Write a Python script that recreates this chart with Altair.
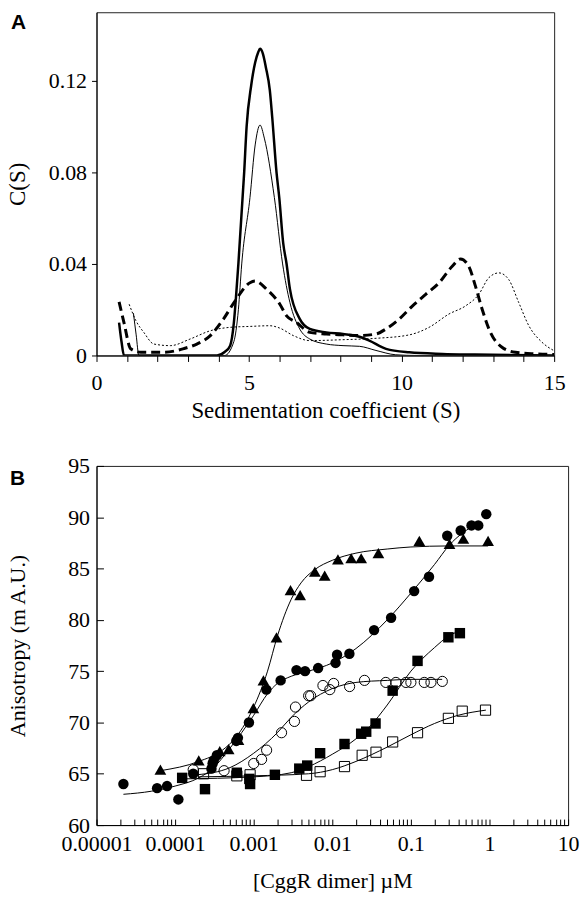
import altair as alt
import pandas as pd

# ---------------- Panel A : c(S) distributions ----------------
a_thick_x = [0.74, 0.82, 0.90, 1.5, 2.5, 3.5, 3.95, 4.2, 4.38, 4.5, 4.58, 4.65, 4.84, 4.92, 5.07, 5.2, 5.3,
             5.36, 5.45, 5.55, 5.68, 5.76, 5.90, 5.99, 6.12, 6.23, 6.34, 6.66, 6.99, 7.53, 8.08, 8.62, 8.94,
             9.49, 10.25, 11.34, 12.4, 15.0]
a_thick_y = [0.0144, 0.006, 0.0, 0.0, 0.0, 0.0, 0.0, 0.0015, 0.0043, 0.014, 0.027, 0.04, 0.08, 0.1, 0.118,
             0.128, 0.1325, 0.134, 0.132, 0.126, 0.116, 0.104, 0.08, 0.069, 0.049, 0.04, 0.029, 0.016, 0.0116,
             0.0101, 0.0094, 0.0082, 0.0065, 0.0029, 0.0014, 0.0007, 0.0004, 0.0]

a_thin_x = [1.21, 1.30, 1.39, 2.5, 3.5, 4.2, 4.5, 4.65, 4.76, 5.03, 5.2, 5.36, 5.5, 5.83, 6.1, 6.34, 6.66,
            6.99, 7.53, 8.08, 8.62, 9.16, 9.81, 10.5, 15.0]
a_thin_y = [0.0185, 0.009, 0.0, 0.0, 0.0, 0.0, 0.006, 0.02, 0.04, 0.069, 0.092, 0.1007, 0.095, 0.069, 0.04,
            0.0231, 0.0116, 0.0072, 0.005, 0.0043, 0.004, 0.0022, 0.0003, 0.0, 0.0]

a_dash_x = [0.74, 0.90, 1.12, 1.45, 2.2, 2.86, 3.29, 3.73, 4.16, 4.54, 5.03, 5.2, 5.58, 6.01, 6.23, 6.55,
            6.99, 7.53, 8.08, 8.62, 9.16, 9.49, 9.92, 10.36, 10.79, 11.23, 11.66, 11.93, 12.2, 12.42, 12.64,
            12.91, 13.29, 13.73, 14.4, 15.0]
a_dash_y = [0.0234, 0.0144, 0.0029, 0.0014, 0.0014, 0.003, 0.005, 0.0087, 0.0159, 0.0238, 0.0318, 0.0325,
            0.0289, 0.0224, 0.0173, 0.0145, 0.0101, 0.0094, 0.009, 0.0087, 0.0094, 0.0116, 0.0159, 0.0217,
            0.0267, 0.0318, 0.039, 0.0422, 0.039, 0.0303, 0.0202, 0.0101, 0.0036, 0.0014, 0.0007, 0.0004]

a_dot_x = [1.07, 1.3, 1.55, 1.88, 2.42, 3.07, 3.73, 4.38, 5.03, 5.68, 6.0, 6.45, 6.99, 8.08, 9.16, 10.25,
           10.9, 11.55, 12.1, 12.53, 12.86, 13.19, 13.51, 13.84, 14.17, 14.6, 14.98]
a_dot_y = [0.0224, 0.015, 0.0101, 0.005, 0.0043, 0.0072, 0.0108, 0.0123, 0.0127, 0.013, 0.012, 0.0087,
           0.0065, 0.0069, 0.0075, 0.009, 0.0123, 0.0181, 0.0217, 0.0267, 0.034, 0.0361, 0.0332, 0.0231,
           0.013, 0.0058, 0.0022]

a_x_ticks = list(range(0, 16))
a_y_ticks = [0, 0.04, 0.08, 0.12]

# ---------------- Panel B : anisotropy titrations ----------------
tri_x = [6.5e-5, 2.0e-4, 3.7e-4, 4.8e-4, 6.4e-4, 9.9e-4, 1.33e-3, 1.95e-3, 2.94e-3, 3.9e-3, 6.0e-3, 8.0e-3,
         0.0118, 0.0174, 0.0233, 0.0386, 0.128, 0.31, 0.465, 0.96]
tri_y = [65.4, 66.3, 67.2, 67.4, 68.3, 71.4, 74.1, 78.3, 82.9, 82.4, 84.7, 84.3, 85.9, 86.0, 86.0, 86.5,
         87.7, 87.4, 87.9, 87.7]
tri_fit_x = [6.5e-5, 2e-4, 4e-4, 6e-4, 1e-3, 1.5e-3, 2e-3, 3e-3, 4e-3, 6e-3, 0.01, 0.02, 0.05, 0.1, 0.3, 0.96]
tri_fit_y = [65.3, 66.2, 67.3, 68.6, 71.5, 75.0, 78.4, 82.0, 83.6, 84.9, 85.8, 86.5, 86.9, 87.1, 87.2, 87.2]

fc_x = [2.2e-5, 5.9e-5, 7.9e-5, 1.1e-4, 1.7e-4, 2.9e-4, 3.0e-4, 3.1e-4, 3.4e-4, 6.0e-4, 6.3e-4, 8.7e-4,
        1.45e-3, 2.2e-3, 3.5e-3, 4.5e-3, 6.6e-3, 0.011, 0.0115, 0.0165, 0.034, 0.056, 0.11, 0.17, 0.29,
        0.43, 0.59, 0.72, 0.91]
fc_y = [64.0, 63.6, 63.8, 62.5, 65.0, 65.5, 66.0, 66.3, 66.8, 68.2, 68.5, 70.0, 73.2, 74.1, 75.1, 75.0,
        75.3, 75.8, 76.6, 76.7, 79.0, 80.2, 82.8, 84.2, 88.2, 88.7, 89.2, 89.2, 90.3]
fc_fit_x = [2.2e-5, 5e-5, 1e-4, 2e-4, 3e-4, 5e-4, 1e-3, 1.5e-3, 2e-3, 3e-3, 5e-3, 0.01, 0.02, 0.05, 0.1,
            0.2, 0.31, 0.6]
fc_fit_y = [63.0, 63.3, 63.8, 64.6, 65.5, 67.5, 70.7, 72.8, 73.8, 74.5, 75.0, 75.8, 77.2, 80.0, 82.6, 85.4,
            87.3, 89.1]

oc_x = [1.7e-4, 4.2e-4, 1.0e-3, 1.26e-3, 1.46e-3, 2.26e-3, 3.3e-3, 3.4e-3, 5.0e-3, 5.3e-3, 7.6e-3,
        9.3e-3, 0.0104, 0.0166, 0.0257, 0.048, 0.0645, 0.0865, 0.1, 0.148, 0.18, 0.251]
oc_y = [65.4, 65.3, 66.0, 66.4, 67.3, 69.0, 70.1, 71.5, 72.6, 72.6, 73.6, 73.2, 73.8, 73.5, 74.1, 73.9,
        73.9, 73.9, 73.9, 73.9, 73.9, 74.0]
oc_fit_x = [1.9e-4, 5e-4, 1e-3, 2e-3, 3e-3, 5e-3, 0.01, 0.02, 0.05, 0.1, 0.25]
oc_fit_y = [64.9, 65.6, 67.0, 69.0, 70.5, 72.0, 73.3, 73.9, 74.1, 74.2, 74.2]

fs_x = [1.23e-4, 2.4e-4, 6.1e-4, 8.8e-4, 9.0e-4, 1.86e-3, 3.8e-3, 4.8e-3, 7.0e-3, 0.0143, 0.0233, 0.027,
        0.0355, 0.0586, 0.1215, 0.30, 0.42]
fs_y = [64.6, 63.5, 65.1, 64.5, 64.0, 64.9, 65.5, 65.8, 67.0, 67.9, 68.9, 69.1, 69.9, 73.1, 76.0, 78.3, 78.7]
fs_fit_x = [1.2e-4, 1e-3, 3e-3, 5e-3, 0.01, 0.02, 0.03, 0.05, 0.1, 0.2, 0.3, 0.45]
fs_fit_y = [64.5, 64.7, 65.1, 65.7, 66.9, 68.4, 69.6, 71.7, 75.0, 77.3, 78.4, 79.0]

os_x = [2.3e-4, 6.1e-4, 9.0e-4, 4.7e-3, 7.0e-3, 0.0143, 0.024, 0.036, 0.0586, 0.1215, 0.30, 0.45, 0.89]
os_y = [65.0, 64.8, 64.9, 64.85, 65.2, 65.7, 66.8, 67.1, 68.1, 69.0, 70.4, 71.1, 71.2]
os_fit_x = [2e-4, 1e-3, 5e-3, 0.01, 0.02, 0.05, 0.1, 0.2, 0.4, 0.9]
os_fit_y = [64.7, 64.8, 65.0, 65.4, 66.2, 67.6, 68.8, 69.9, 70.7, 71.2]

b_x_ticks = [m * 10.0 ** e for e in range(-5, 1) for m in range(1, 10)] + [10.0]
b_y_ticks = [60, 65, 70, 75, 80, 85, 90, 95]

SERIF = "Liberation Serif"
LFS = 22   # tick label size

# ---------------- build panel A ----------------
ax_a_x = alt.Axis(values=a_x_ticks, labelExpr="datum.value % 5 == 0 ? datum.label : ''",
                  title="Sedimentation coefficient (S)", tickSize=6, labelPadding=11, titlePadding=6,
                  labelFlush=False, labelOverlap=False, titleFontSize=23)
ax_a_y = alt.Axis(values=a_y_ticks, format=".2~g", title="C(S)", tickSize=5, labelPadding=5,
                  titlePadding=19, labelOverlap=False, titleFontSize=23)
xA = alt.X("s:Q", scale=alt.Scale(domain=[0, 15], nice=False), axis=ax_a_x)
yA = alt.Y("c:Q", scale=alt.Scale(domain=[0, 0.15], nice=False), axis=ax_a_y)


def a_line(xs, ys, width, dash=None):
    df = pd.DataFrame({"s": xs, "c": ys})
    kw = dict(color="black", strokeWidth=width, interpolate="monotone", clip=True)
    if dash:
        kw["strokeDash"] = dash
    return alt.Chart(df).mark_line(**kw).encode(x=xA, y=yA)


labA = alt.Chart(pd.DataFrame({"t": ["A"]})).mark_text(
    font="Liberation Sans", fontWeight="bold", fontSize=21, align="left", baseline="top", color="black"
).encode(text="t:N", x=alt.value(-86), y=alt.value(0))

panelA = alt.layer(
    a_line(a_dot_x, a_dot_y, 1, [2, 2]),
    a_line(a_thin_x, a_thin_y, 1),
    a_line(a_dash_x, a_dash_y, 3, [9, 5]),
    a_line(a_thick_x, a_thick_y, 2.5),
    labA,
).properties(width=460, height=345)

# ---------------- build panel B ----------------
decade = "abs(log(datum.value)/LN10 - round(log(datum.value)/LN10)) < 1e-6"
ax_b_x = alt.Axis(values=b_x_ticks,
                  labelExpr=decade + " ? (datum.value >= 1 ? format(datum.value, 'd') : format(datum.value, '.5~f')) : ''",
                  title="[CggR dimer] \u00b5M", tickSize={"expr": "-6"}, labelPadding=15, titlePadding=16,
                  labelFlush=False, labelOverlap=False, titleFontSize=22)
ax_b_y = alt.Axis(values=b_y_ticks, title="Anisotropy (m A.U.)", tickSize={"expr": "-7"}, labelPadding=14,
                  titlePadding=38, labelOverlap=False, titleFontSize=22)
xB = alt.X("x:Q", scale=alt.Scale(type="log", domain=[1e-5, 10], nice=False), axis=ax_b_x)
yB = alt.Y("y:Q", scale=alt.Scale(domain=[60, 95], nice=False), axis=ax_b_y)


def b_fit(xs, ys):
    return alt.Chart(pd.DataFrame({"x": xs, "y": ys})).mark_line(
        color="black", strokeWidth=1, interpolate="monotone").encode(x=xB, y=yB)


def b_pts(xs, ys, shape, filled, size):
    return alt.Chart(pd.DataFrame({"x": xs, "y": ys})).mark_point(
        shape=shape, filled=filled, size=size, color="black", opacity=1,
        strokeWidth=1).encode(x=xB, y=yB)


labB = alt.Chart(pd.DataFrame({"t": ["B"]})).mark_text(
    font="Liberation Sans", fontWeight="bold", fontSize=21, align="left", baseline="top", color="black"
).encode(text="t:N", x=alt.value(-87), y=alt.value(2))

panelB = alt.layer(
    b_fit(tri_fit_x, tri_fit_y),
    b_fit(fc_fit_x, fc_fit_y),
    b_fit(oc_fit_x, oc_fit_y),
    b_fit(fs_fit_x, fs_fit_y),
    b_fit(os_fit_x, os_fit_y),
    b_pts(os_x, os_y, "square", False, 105),
    b_pts(fs_x, fs_y, "square", True, 110),
    b_pts(oc_x, oc_y, "circle", False, 105),
    b_pts(fc_x, fc_y, "circle", True, 110),
    b_pts(tri_x, tri_y, "triangle-up", True, 140),
    labB,
).properties(width=474, height=361)

chart = alt.vconcat(panelA, panelB, spacing=31).properties(
    padding={"left": 6, "top": 9, "right": 5, "bottom": 2}
).configure_view(stroke="#222", strokeWidth=1).configure_axis(
    grid=False, domainColor="black", tickColor="black", labelColor="black", titleColor="black",
    labelFont=SERIF, titleFont=SERIF, labelFontSize=LFS, titleFontWeight="normal",
    domainWidth=1, tickWidth=1
)

chart.save("out.html", embed_options={"renderer": "svg", "actions": False})
